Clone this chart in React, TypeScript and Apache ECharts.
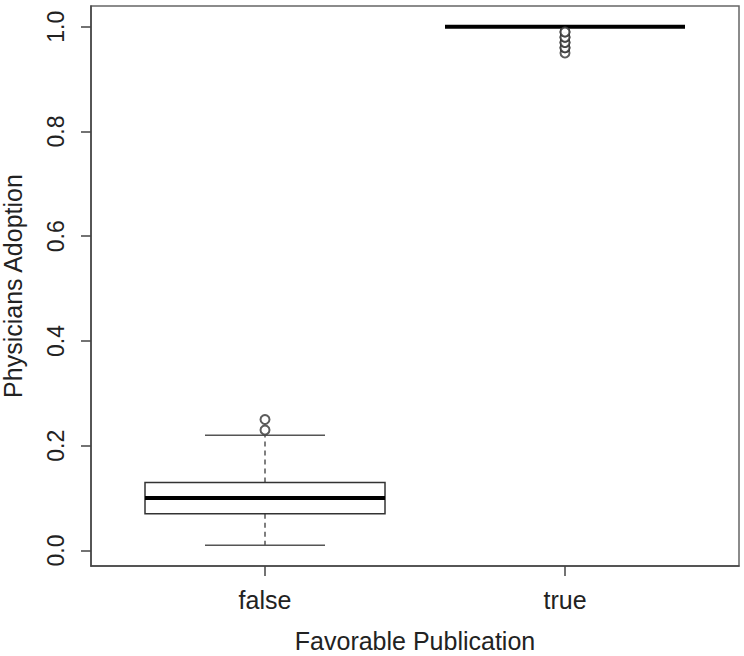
import React, { useEffect, useRef } from "react";
import * as echarts from "echarts";

const categories = ["false", "true"];
// [low whisker, Q1, median, Q3, high whisker]
const boxStats = [
  [0.01, 0.07, 0.1, 0.13, 0.22],
  [1.0, 1.0, 1.0, 1.0, 1.0],
];
const outliersFalse = [0.23, 0.25];
const outliersTrue = [0.95, 0.96, 0.96, 0.97, 0.97, 0.98, 0.98, 0.99, 0.99];
const yTicks = [0, 0.2, 0.4, 0.6, 0.8, 1.0];
const xTicks = [1, 2];

const FONT = "'Liberation Sans', Arial, Helvetica, sans-serif";

export default function App() {
  const ref = useRef<HTMLDivElement>(null);
  useEffect(() => {
    if (!ref.current) return;
    const chart = echarts.init(ref.current, null, { renderer: "svg" });
    const boxData = boxStats.map((s, i) => [i + 1, ...s]);
    const outData: number[][] = [];
    outliersFalse.forEach((v) => outData.push([1, v]));
    outliersTrue.forEach((v) => outData.push([2, v]));

    chart.setOption({
      animation: false,
      backgroundColor: "#ffffff",
      grid: {
        left: 91,
        right: 5,
        top: 6,
        bottom: 90,
        containLabel: false,
        outerBoundsMode: "none",
        show: true,
        borderColor: "#666",
        borderWidth: 1.5,
        backgroundColor: "transparent",
      },
      xAxis: {
        type: "value",
        min: 0.42,
        max: 2.58,
        name: "Favorable Publication",
        nameLocation: "middle",
        nameGap: 62,
        nameTextStyle: { fontFamily: FONT, fontSize: 25, color: "#222" },
        splitLine: { show: false },
        axisLine: { show: true, onZero: false, lineStyle: { color: "#444", width: 1.5 } },
        axisTick: {
          show: true,
          customValues: xTicks,
          length: 10,
          lineStyle: { color: "#444", width: 1.5 },
        },
        axisLabel: {
          customValues: xTicks,
          margin: 21,
          fontFamily: FONT,
          fontSize: 25,
          color: "#222",
          formatter: (v: number) => categories[Math.round(v) - 1] ?? "",
        },
      },
      yAxis: {
        type: "value",
        min: -0.0296,
        max: 1.0396,
        name: "Physicians Adoption",
        nameLocation: "middle",
        nameGap: 66,
        nameTextStyle: { fontFamily: FONT, fontSize: 25, color: "#222" },
        splitLine: { show: false },
        axisLine: { show: true, onZero: false, lineStyle: { color: "#444", width: 1.5 } },
        axisTick: {
          show: true,
          customValues: yTicks,
          length: 10,
          lineStyle: { color: "#444", width: 1.5 },
        },
        axisLabel: {
          customValues: yTicks,
          rotate: 90,
          margin: 24,
          fontFamily: FONT,
          fontSize: 23,
          color: "#222",
          formatter: (v: number) => v.toFixed(1),
        },
      },
      series: [
        {
          type: "custom",
          data: boxData,
          encode: { x: 0, y: [1, 2, 3, 4, 5] },
          renderItem: (params: any, api: any) => {
            const x = api.value(0);
            const lo = api.coord([x, api.value(1)]);
            const q1 = api.coord([x, api.value(2)]);
            const med = api.coord([x, api.value(3)]);
            const q3 = api.coord([x, api.value(4)]);
            const hi = api.coord([x, api.value(5)]);
            const w = api.size([0.8, 0])[0];
            const cx = lo[0];
            const gray = "#555";
            return {
              type: "group",
              children: [
                {
                  type: "line",
                  shape: { x1: cx, y1: q3[1], x2: cx, y2: hi[1] },
                  style: { stroke: gray, lineWidth: 1.5, lineDash: [5, 4] },
                },
                {
                  type: "line",
                  shape: { x1: cx, y1: q1[1], x2: cx, y2: lo[1] },
                  style: { stroke: gray, lineWidth: 1.5, lineDash: [5, 4] },
                },
                {
                  type: "line",
                  shape: { x1: cx - w / 4, y1: hi[1], x2: cx + w / 4, y2: hi[1] },
                  style: { stroke: gray, lineWidth: 1.5 },
                },
                {
                  type: "line",
                  shape: { x1: cx - w / 4, y1: lo[1], x2: cx + w / 4, y2: lo[1] },
                  style: { stroke: gray, lineWidth: 1.5 },
                },
                {
                  type: "rect",
                  shape: { x: cx - w / 2, y: q3[1], width: w, height: q1[1] - q3[1] },
                  style: { fill: "#fff", stroke: "#333", lineWidth: 1.5 },
                },
                {
                  type: "line",
                  shape: { x1: cx - w / 2, y1: med[1], x2: cx + w / 2, y2: med[1] },
                  style: { stroke: "#000", lineWidth: 4 },
                },
              ],
            };
          },
          z: 2,
        },
        {
          type: "scatter",
          data: outData,
          symbol: "emptyCircle",
          symbolSize: 9,
          itemStyle: { color: "#333", borderColor: "#333", borderWidth: 1.3 },
          z: 3,
        },
      ],
    });
    return () => chart.dispose();
  }, []);
  return (
    <div
      ref={ref}
      style={{ position: "fixed", left: 0, top: 0, width: 744, height: 656, background: "#fff" }}
    />
  );
}
